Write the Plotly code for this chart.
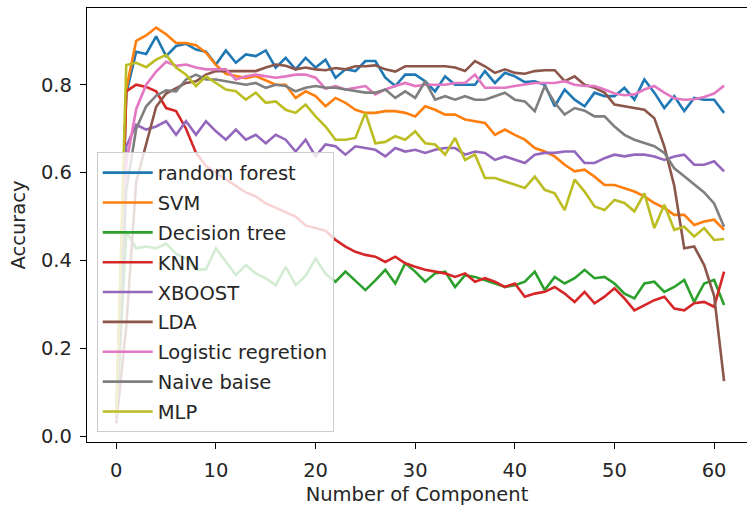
import plotly.graph_objects as go

# Number of components on the x axis
components = list(range(62))

random_forest = [0.04, 0.78, 0.875, 0.87, 0.91, 0.865, 0.888, 0.893, 0.88, 0.875,
                 0.846, 0.878, 0.85, 0.869, 0.865, 0.878, 0.839, 0.861, 0.835, 0.861,
                 0.839, 0.857, 0.816, 0.835, 0.831, 0.854, 0.854, 0.816, 0.797, 0.823,
                 0.823, 0.808, 0.785, 0.819, 0.80, 0.80, 0.80, 0.831, 0.804, 0.827,
                 0.819, 0.806, 0.808, 0.80, 0.751, 0.789, 0.766, 0.751, 0.782, 0.774,
                 0.774, 0.793, 0.766, 0.812, 0.782, 0.747, 0.774, 0.74, 0.77, 0.766,
                 0.766, 0.736]

svm = [0.035, 0.79, 0.90, 0.912, 0.93, 0.915, 0.895, 0.895, 0.89, 0.873,
       0.845, 0.825, 0.82, 0.815, 0.82, 0.81, 0.80, 0.80, 0.77, 0.785,
       0.774, 0.751, 0.77, 0.759, 0.743, 0.736, 0.736, 0.74, 0.74, 0.736,
       0.728, 0.751, 0.743, 0.732, 0.732, 0.721, 0.717, 0.713, 0.686, 0.698,
       0.686, 0.675, 0.656, 0.648, 0.637, 0.618, 0.603, 0.607, 0.591, 0.572,
       0.572, 0.565, 0.557, 0.546, 0.531, 0.52, 0.504, 0.504, 0.481, 0.489,
       0.493, 0.47]

decision_tree = [0.04, 0.466, 0.428, 0.432, 0.428, 0.439, 0.415, 0.405, 0.38, 0.38,
                 0.428, 0.397, 0.367, 0.39, 0.371, 0.36, 0.344, 0.386, 0.344, 0.365,
                 0.405, 0.37, 0.352, 0.375, 0.355, 0.333, 0.355, 0.379, 0.348, 0.394,
                 0.375, 0.352, 0.371, 0.375, 0.34, 0.367, 0.363, 0.356, 0.348, 0.34,
                 0.344, 0.352, 0.375, 0.333, 0.363, 0.348, 0.36, 0.379, 0.36, 0.363,
                 0.348, 0.325, 0.314, 0.348, 0.352, 0.329, 0.34, 0.356, 0.306, 0.348,
                 0.356, 0.299]

knn = [0.04, 0.785, 0.80, 0.795, 0.785, 0.747, 0.74, 0.70, 0.645, 0.615,
       0.60, 0.584, 0.57, 0.555, 0.546, 0.53, 0.52, 0.51, 0.50, 0.48,
       0.474, 0.468, 0.447, 0.432, 0.42, 0.413, 0.409, 0.397, 0.409, 0.394,
       0.386, 0.379, 0.375, 0.371, 0.363, 0.371, 0.352, 0.36, 0.352, 0.34,
       0.348, 0.318, 0.325, 0.329, 0.34, 0.325, 0.306, 0.329, 0.303, 0.318,
       0.337, 0.314, 0.287, 0.299, 0.31, 0.318, 0.291, 0.287, 0.303, 0.306,
       0.295, 0.375]

xboost = [0.04, 0.66, 0.709, 0.698, 0.705, 0.717, 0.686, 0.717, 0.686, 0.717,
          0.694, 0.675, 0.698, 0.675, 0.686, 0.667, 0.686, 0.675, 0.648, 0.675,
          0.637, 0.664, 0.66, 0.641, 0.66, 0.656, 0.652, 0.637, 0.656, 0.648,
          0.652, 0.645, 0.652, 0.656, 0.656, 0.641, 0.648, 0.645, 0.629, 0.637,
          0.629, 0.622, 0.641, 0.645, 0.645, 0.648, 0.648, 0.622, 0.622, 0.633,
          0.641, 0.637, 0.641, 0.641, 0.637, 0.629, 0.637, 0.641, 0.618, 0.618,
          0.626, 0.603]

lda = [0.03, 0.25, 0.58, 0.665, 0.75, 0.78, 0.793, 0.804, 0.808, 0.823,
       0.831, 0.831, 0.831, 0.831, 0.831, 0.839, 0.846, 0.843, 0.835, 0.839,
       0.835, 0.833, 0.838, 0.835, 0.842, 0.842, 0.844, 0.835, 0.83, 0.842,
       0.842, 0.842, 0.842, 0.842, 0.839, 0.831, 0.854, 0.842, 0.827, 0.835,
       0.827, 0.825, 0.831, 0.833, 0.833, 0.808, 0.819, 0.80, 0.793, 0.782,
       0.755, 0.751, 0.747, 0.743, 0.724, 0.66, 0.57, 0.428, 0.432, 0.39,
       0.32, 0.126]

logistic = [0.036, 0.62, 0.745, 0.80, 0.83, 0.852, 0.843, 0.846, 0.839, 0.835,
            0.835, 0.835, 0.812, 0.819, 0.823, 0.819, 0.816, 0.819, 0.823, 0.823,
            0.816, 0.791, 0.797, 0.789, 0.793, 0.797, 0.778, 0.789, 0.797, 0.804,
            0.797, 0.80, 0.80, 0.80, 0.804, 0.804, 0.823, 0.793, 0.793, 0.793,
            0.797, 0.801, 0.804, 0.804, 0.804, 0.808, 0.80, 0.797, 0.797, 0.789,
            0.78, 0.776, 0.778, 0.789, 0.797, 0.782, 0.769, 0.766, 0.767, 0.772,
            0.78, 0.798]

naive_bayes = [0.04, 0.56, 0.70, 0.751, 0.775, 0.787, 0.785, 0.812, 0.823, 0.812,
               0.812, 0.808, 0.804, 0.80, 0.804, 0.793, 0.80, 0.797, 0.785, 0.793,
               0.797, 0.793, 0.793, 0.789, 0.785, 0.782, 0.782, 0.789, 0.77, 0.785,
               0.77, 0.808, 0.766, 0.774, 0.766, 0.774, 0.766, 0.766, 0.774, 0.782,
               0.766, 0.762, 0.74, 0.797, 0.759, 0.732, 0.747, 0.741, 0.728, 0.728,
               0.705, 0.686, 0.675, 0.667, 0.66, 0.645, 0.61, 0.592, 0.573, 0.555,
               0.53, 0.477]

mlp = [0.05, 0.845, 0.85, 0.84, 0.857, 0.868, 0.839, 0.823, 0.797, 0.819,
       0.804, 0.789, 0.785, 0.766, 0.782, 0.759, 0.762, 0.743, 0.736, 0.755,
       0.728, 0.705, 0.675, 0.675, 0.679, 0.736, 0.667, 0.67, 0.683, 0.675,
       0.694, 0.667, 0.664, 0.641, 0.679, 0.629, 0.641, 0.588, 0.588, 0.58,
       0.572, 0.565, 0.591, 0.561, 0.553, 0.515, 0.584, 0.557, 0.523, 0.515,
       0.538, 0.531, 0.512, 0.553, 0.474, 0.527, 0.47, 0.477, 0.455, 0.474,
       0.447, 0.449]

series_names = ["random forest", "SVM", "Decision tree", "KNN", "XBOOST",
                "LDA", "Logistic regretion", "Naive baise", "MLP"]
series_values = [random_forest, svm, decision_tree, knn, xboost,
                 lda, logistic, naive_bayes, mlp]
colors = ["#1f77b4", "#ff7f0e", "#2ca02c", "#d62728", "#9467bd",
          "#8c564b", "#e377c2", "#7f7f7f", "#bcbd22"]

x_ticks = [0, 10, 20, 30, 40, 50, 60]
y_ticks = [0.0, 0.2, 0.4, 0.6, 0.8]

FONT = "DejaVu Sans"
TEXT = "#262626"
FS = 19.5

fig = go.Figure()
for i, (name, vals, col) in enumerate(zip(series_names, series_values, colors)):
    fig.add_trace(go.Scatter(
        x=components, y=vals, mode="lines", name=name,
        line=dict(color=col, width=2.6),
        legendgroup=f"g{i}",
    ))

axis_common = dict(
    showgrid=False, zeroline=False, showline=True, mirror=True,
    linecolor="#000000", linewidth=1.3,
    ticks="outside", ticklen=6, tickwidth=1.3, tickcolor="#000000",
    tickfont=dict(family=FONT, size=FS, color=TEXT),
)

fig.update_layout(
    width=747, height=509,
    margin=dict(l=87, r=0, t=8, b=67),
    paper_bgcolor="white", plot_bgcolor="white",
    font=dict(family=FONT, size=FS, color=TEXT),
    xaxis=dict(range=[-2.94, 63.3], tickvals=x_ticks,
               ticktext=[str(t) for t in x_ticks],
               ticklabelstandoff=4,
               title=dict(text="Number of Component", standoff=6,
                          font=dict(family=FONT, size=FS, color=TEXT)),
               **axis_common),
    yaxis=dict(range=[-0.0125, 0.9745], tickvals=y_ticks,
               ticktext=[f"{t:.1f}" for t in y_ticks],
               ticklabelstandoff=4,
               title=dict(text="Accuracy", standoff=10,
                          font=dict(family=FONT, size=FS, color=TEXT)),
               **axis_common),
    legend=dict(
        x=0.0147, y=0.022, xanchor="left", yanchor="bottom",
        bgcolor="rgba(255,255,255,0.8)", bordercolor="#cccccc", borderwidth=1,
        font=dict(family=FONT, size=FS, color=TEXT),
        tracegroupgap=1.5, itemwidth=50,
    ),
    showlegend=True,
)

fig.write_html("out.html")
